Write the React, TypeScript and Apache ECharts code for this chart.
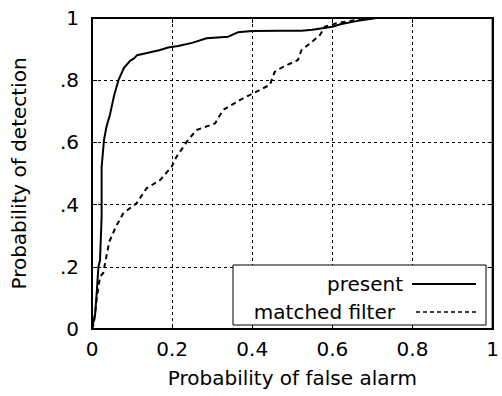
import React, { useEffect, useRef } from "react";
import * as echarts from "echarts";

const presentX = [0, 0.008, 0.012, 0.016, 0.02, 0.024, 0.024, 0.03, 0.036, 0.045, 0.055, 0.066, 0.08, 0.095, 0.105, 0.112, 0.14, 0.17, 0.19, 0.215, 0.25, 0.286, 0.34, 0.364, 0.4, 0.47, 0.523, 0.55, 0.6, 0.62, 0.66, 0.71, 0.8, 1];
const presentY = [0, 0.05, 0.12, 0.2, 0.22, 0.36, 0.52, 0.608, 0.65, 0.69, 0.75, 0.8, 0.84, 0.862, 0.87, 0.88, 0.888, 0.897, 0.905, 0.91, 0.92, 0.935, 0.94, 0.954, 0.958, 0.959, 0.959, 0.962, 0.972, 0.98, 0.99, 1.0, 1.0, 1.0];

const mfX = [0, 0.005, 0.012, 0.02, 0.028, 0.043, 0.06, 0.078, 0.111, 0.136, 0.17, 0.199, 0.211, 0.24, 0.261, 0.307, 0.327, 0.369, 0.402, 0.444, 0.456, 0.477, 0.514, 0.523, 0.544, 0.569, 0.581, 0.61, 0.66, 0.71, 0.8, 1];
const mfY = [0, 0.02, 0.1, 0.168, 0.18, 0.28, 0.33, 0.372, 0.404, 0.452, 0.479, 0.522, 0.554, 0.608, 0.64, 0.661, 0.704, 0.736, 0.758, 0.785, 0.827, 0.843, 0.865, 0.897, 0.918, 0.945, 0.972, 0.983, 0.994, 1.0, 1.0, 1.0];

const xTickLabels: Record<string, string> = { "0": "0", "0.2": "0.2", "0.4": "0.4", "0.6": "0.6", "0.8": "0.8", "1": "1" };
const yTickLabels: Record<string, string> = { "0": "0", "0.2": ".2", "0.4": ".4", "0.6": ".6", "0.8": ".8", "1": "1" };

const seriesNames = ["present", "matched filter"];
const xTitle = "Probability of false alarm";
const yTitle = "Probability of detection";

const FONT = "DejaVu Sans, sans-serif";
const FS = 20;

export default function App() {
  const ref = useRef<HTMLDivElement>(null);
  useEffect(() => {
    if (!ref.current) return;
    const chart = echarts.init(ref.current, null, { renderer: "svg" });
    const gridLine = { show: true, lineStyle: { color: "#000", type: [3, 3] as any, width: 1 } };
    const label = (map: Record<string, string>) => ({
      color: "#000",
      fontSize: FS,
      fontFamily: FONT,
      formatter: (v: number) => map[String(Math.round(v * 10) / 10)] ?? String(v),
    });
    const common = {
      type: "value" as const,
      min: 0,
      max: 1,
      interval: 0.2,
      axisLine: { show: true, onZero: false, lineStyle: { color: "#000", width: 2 } },
      axisTick: { show: true, inside: true, length: 5, lineStyle: { color: "#000", width: 1 } },
    };
    const lx = 233, ly = 265, lw = 253, lh = 60;
    chart.setOption({
      animation: false,
      grid: { left: 92, right: 9, top: 18, bottom: 67, show: true, borderColor: "#000", borderWidth: 2, backgroundColor: "#fff" },
      xAxis: [
        {
          ...common,
          position: "bottom",
          splitLine: gridLine,
          axisLabel: { ...label(xTickLabels), margin: 10 },
          name: xTitle,
          nameLocation: "middle",
          nameGap: 39,
          nameTextStyle: { color: "#000", fontSize: FS, fontFamily: FONT },
        },
        { ...common, position: "top", splitLine: { show: false }, axisLabel: { show: false } },
      ],
      yAxis: [
        {
          ...common,
          position: "left",
          splitLine: gridLine,
          axisLabel: { ...label(yTickLabels), margin: 13 },
          name: yTitle,
          nameLocation: "middle",
          nameGap: 63,
          nameTextStyle: { color: "#000", fontSize: FS, fontFamily: FONT },
        },
        { ...common, position: "right", splitLine: { show: false }, axisLabel: { show: false } },
      ],
      series: [
        {
          name: seriesNames[0],
          type: "line",
          showSymbol: false,
          data: presentX.map((x, i) => [x, presentY[i]]),
          lineStyle: { color: "#000", width: 2 },
          z: 3,
        },
        {
          name: seriesNames[1],
          type: "line",
          showSymbol: false,
          data: mfX.map((x, i) => [x, mfY[i]]),
          lineStyle: { color: "#000", width: 2, type: [5, 4] as any },
          z: 3,
        },
      ],
      graphic: [
        { type: "rect", shape: { x: lx, y: ly, width: lw, height: lh }, style: { fill: "#fff", stroke: "#000", lineWidth: 1 }, z: 100 },
        { type: "text", x: 403, y: 284, style: { text: seriesNames[0], fill: "#000", font: `${FS}px ${FONT}`, textAlign: "right", textVerticalAlign: "middle" }, z: 101 },
        { type: "line", shape: { x1: 412, y1: 284, x2: 476, y2: 284 }, style: { stroke: "#000", lineWidth: 2 }, z: 101 },
        { type: "text", x: 395, y: 312, style: { text: seriesNames[1], fill: "#000", font: `${FS}px ${FONT}`, textAlign: "right", textVerticalAlign: "middle" }, z: 101 },
        { type: "line", shape: { x1: 416, y1: 312, x2: 476, y2: 312 }, style: { stroke: "#000", lineWidth: 1.5, lineDash: [4, 3] }, z: 101 },
      ],
    });
    return () => chart.dispose();
  }, []);
  return <div ref={ref} style={{ width: 502, height: 396, position: "absolute", left: 0, top: 0 }} />;
}
